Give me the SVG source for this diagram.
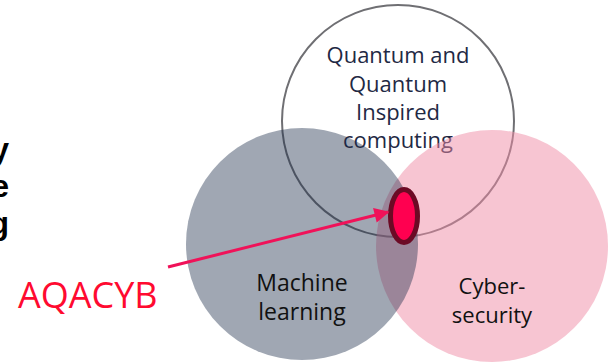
<svg xmlns="http://www.w3.org/2000/svg" width="609" height="364" viewBox="0 0 609 364">
  <style>
    .lbl { font-family: "Open Sans", "Noto Sans", sans-serif; font-size: 22px; text-anchor: middle; }
    .lbl.big { font-size: 23px; }
    .side { font-family: "Liberation Sans", Arial, sans-serif; font-size: 32px; font-weight: bold; text-anchor: end; fill: #000; }
  </style>
  <defs>
    <marker id="arrowhead" viewBox="0 0 10 10" refX="9" refY="5" markerWidth="5.5" markerHeight="5" orient="auto" markerUnits="strokeWidth">
      <path d="M0,0 L10,5 L0,10 Z" fill="#f01259"/>
    </marker>
  </defs>
  <rect width="609" height="364" fill="#fff"/>

  <!-- cut-off heading at the left edge -->
  <g id="side-heading">
    <text class="side" x="9" y="160">y</text>
    <text class="side" x="9" y="197">e</text>
    <text class="side" x="9" y="234">g</text>
  </g>

  <!-- quantum computing set (outline only) -->
  <g id="quantum">
    <circle cx="398" cy="121" r="116" fill="none" stroke="#6f6f73" stroke-width="2"/>
    <text class="lbl" fill="#1f2944" x="398" y="63">Quantum and</text>
    <text class="lbl" fill="#1f2944" x="398" y="92">Quantum</text>
    <text class="lbl" fill="#1f2944" x="398" y="120">Inspired</text>
    <text class="lbl" fill="#1f2944" x="398" y="148">computing</text>
  </g>

  <!-- cybersecurity set -->
  <g id="cybersecurity">
    <circle cx="492" cy="246" r="116" fill="#f08ca5" fill-opacity="0.5"/>
    <text class="lbl" fill="#111" x="492" y="294">Cyber-</text>
    <text class="lbl" fill="#111" x="492" y="323">security</text>
  </g>

  <!-- machine learning set -->
  <g id="machine-learning">
    <circle cx="302" cy="244" r="116" fill="#1c2d4a" fill-opacity="0.42"/>
    <text class="lbl big" fill="#111" x="302" y="291">Machine</text>
    <text class="lbl big" fill="#111" x="302" y="320">learning</text>
  </g>

  <!-- intersection marker -->
  <g id="aqacyb-spot">
    <ellipse cx="404" cy="216" rx="13.5" ry="26.5" fill="#ff0050" stroke="#6c0a25" stroke-width="5"/>
  </g>

  <g id="aqacyb">
    <text x="18" y="308" font-family="Open Sans, Noto Sans, sans-serif" font-size="36" fill="#ff0a30">AQACYB</text>
  </g>

  <g id="connectors">
    <line x1="168" y1="267" x2="388" y2="212" stroke="#f01259" stroke-width="3" marker-end="url(#arrowhead)"/>
  </g>
</svg>
